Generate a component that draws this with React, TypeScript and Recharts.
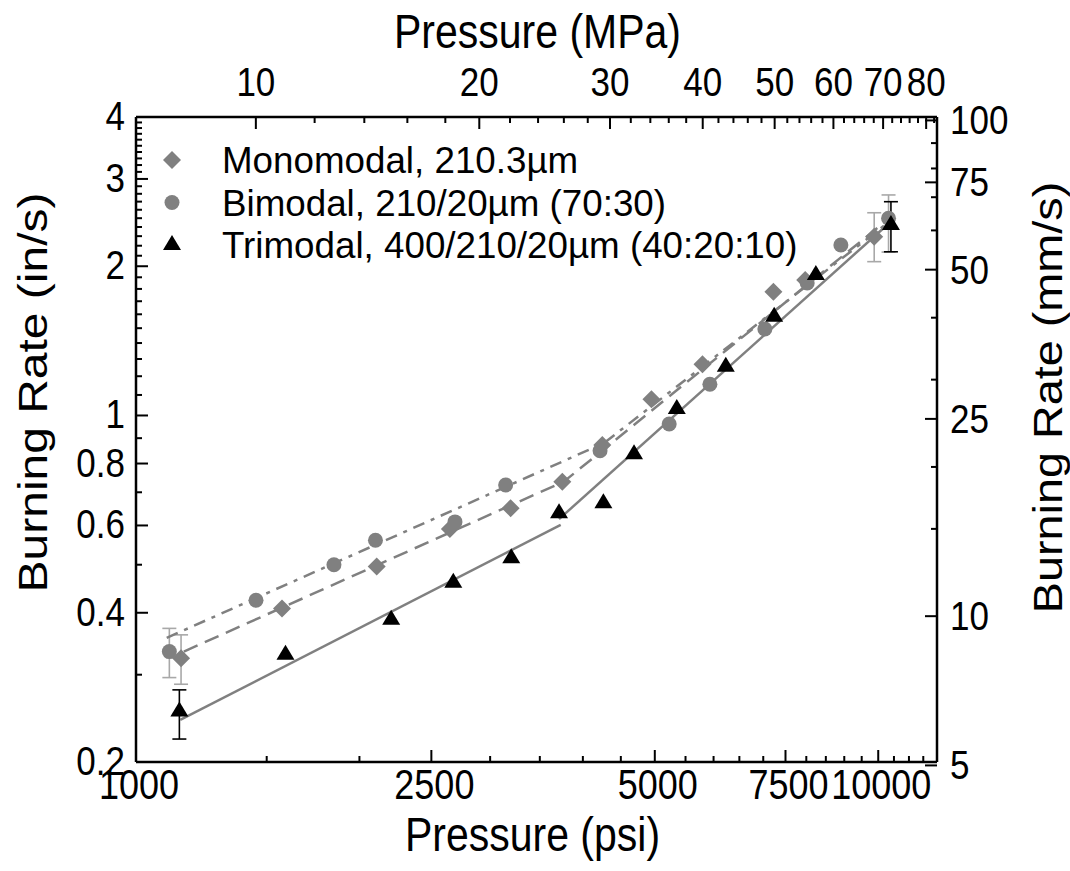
import React from 'react';
import { ComposedChart, Scatter, XAxis, YAxis, ErrorBar, Legend, Label } from 'recharts';

const FONT = '"Liberation Sans", Arial, Helvetica, sans-serif';
const GRAY = '#808080';
const ERR_GRAY = '#a8a8a8';
const SY = 1.17; // vertical text stretch seen in the reference

// ---- measured points (pressure in psi, burning rate in in/s) ----
const monoPsi = [1150, 1573, 2110, 2648, 3197, 3753, 4249, 4948, 5797, 7224, 7973, 9876];
const monoRate = [0.324, 0.408, 0.496, 0.59, 0.65, 0.735, 0.872, 1.078, 1.268, 1.777, 1.876, 2.294];
const biPsi = [1109, 1451, 1848, 2102, 2690, 3148, 4219, 5228, 5932, 7035, 8022, 8906, 10325];
const biRate = [0.334, 0.424, 0.5, 0.56, 0.61, 0.724, 0.849, 0.961, 1.156, 1.494, 1.85, 2.207, 2.499];
const triPsi = [1144, 1590, 2207, 2676, 3203, 3715, 4263, 4688, 5353, 6232, 7241, 8241, 10402];
const triRate = [0.253, 0.329, 0.387, 0.46, 0.515, 0.635, 0.665, 0.835, 1.031, 1.254, 1.582, 1.92, 2.422];

// ---- error bars (first and last points) ----
const monoErrPsi = [1150, 9876];
const monoErrRate = [0.324, 2.294];
const monoErrLow = [0.287, 2.043];
const monoErrHigh = [0.361, 2.564];
const biErrPsi = [1109, 10325];
const biErrRate = [0.334, 2.499];
const biErrLow = [0.296, 2.136];
const biErrHigh = [0.372, 2.785];
const triErrPsi = [1144, 10402];
const triErrRate = [0.253, 2.422];
const triErrLow = [0.2225, 2.139];
const triErrHigh = [0.2796, 2.699];

// ---- fit lines ----
const monoFitPsi = [1160, 3773, 9970];
const monoFitRate = [0.334, 0.736, 2.388];
const biFitPsi = [1100, 4272, 10251];
const biFitRate = [0.356, 0.88, 2.433];
const triFit1Psi = [1147, 3734];
const triFit1Rate = [0.2432, 0.6016];
const triFit2Psi = [3715, 10350];
const triFit2Rate = [0.618, 2.445];

// ---- ticks ----
const psiMajor = [1000, 2500, 5000, 7500, 10000];
const psiMinor = [1500, 2000, 3000, 3500, 4000, 4500, 5500, 6000, 6500, 7000, 8000, 8500, 9000, 9500, 10500, 11000, 11500];
const mpaMajor = [10, 20, 30, 40, 50, 60, 70, 80];
const mpaMinor = [12, 14, 16, 18, 22, 24, 26, 28, 32, 34, 36, 38, 42, 44, 46, 48, 52, 54, 56, 58, 62, 64, 66, 68, 72, 74, 76, 78, 82];
const inMajor = [0.2, 0.4, 0.6, 0.8, 1, 2, 3, 4];
const inMinor = [0.3, 0.5, 0.7, 0.9, 1.1, 1.2, 1.3, 1.4, 1.5, 1.6, 1.7, 1.8, 1.9, 2.1, 2.2, 2.3, 2.4, 2.5, 2.6, 2.7, 2.8, 2.9, 3.1, 3.2, 3.3, 3.4, 3.5, 3.6, 3.7, 3.8, 3.9];
const mmMajor = [5, 10, 25, 50, 75, 100];
const mmMinor = [15, 20, 30, 40, 60, 70, 80, 90];

const psiDomain = [1000, 12000];
const inDomain = [0.2, 4];
const PSI_PER_MPA = 145.038;
const MM_PER_IN = 25.4;

const legendLabels = ['Monomodal, 210.3\u00b5m', 'Bimodal, 210/20\u00b5m (70:30)', 'Trimodal, 400/210/20\u00b5m (40:20:10)'];
const legendShapes = ['diamond', 'circle', 'triangle'];
const legendColors = [GRAY, GRAY, '#000000'];

const pts = (xs: number[], ys: number[]) => xs.map((psi, i) => ({ psi, rate: ys[i] }));
const errPts = (xs: number[], ys: number[], lo: number[], hi: number[]) =>
  xs.map((psi, i) => ({ psi, rate: ys[i], err: [ys[i] - lo[i], hi[i] - ys[i]] }));

const monoData = pts(monoPsi, monoRate);
const biData = pts(biPsi, biRate);
const triData = pts(triPsi, triRate);
const monoErr = errPts(monoErrPsi, monoErrRate, monoErrLow, monoErrHigh);
const biErr = errPts(biErrPsi, biErrRate, biErrLow, biErrHigh);
const triErr = errPts(triErrPsi, triErrRate, triErrLow, triErrHigh);
const monoFit = pts(monoFitPsi, monoFitRate);
const biFit = pts(biFitPsi, biFitRate);
const triFit1 = pts(triFit1Psi, triFit1Rate);
const triFit2 = pts(triFit2Psi, triFit2Rate);

const isIn = (arr: number[], v: number) => arr.some((a) => Math.abs(a - v) < 1e-6);

const MarkerShape = (kind: string, color: string, cx: number, cy: number) => {
  if (kind === 'diamond') {
    return <polygon points={`${cx},${cy - 9} ${cx + 9},${cy} ${cx},${cy + 9} ${cx - 9},${cy}`} fill={color} />;
  }
  if (kind === 'circle') {
    return <circle cx={cx} cy={cy} r={7.5} fill={color} />;
  }
  return <polygon points={`${cx},${cy - 10} ${cx + 9},${cy + 5} ${cx - 9},${cy + 5}`} fill={color} />;
};

const Nothing = () => <g />;

const textStyle = { fontFamily: FONT, fill: '#000' } as const;

// stretched text helper (anchor at baseline point x,y)
const SText = ({ x, y, size, anchor, rotate, sx, sy, children }: any) => (
  <text
    transform={`translate(${x},${y}) scale(${sx ?? 1},${sy ?? SY})${rotate ? ` rotate(${rotate})` : ''}`}
    x={0}
    y={0}
    textAnchor={anchor || 'start'}
    fontSize={size}
    style={textStyle}
  >
    {children}
  </text>
);

const BottomTick = (p: any) => {
  const { x, y, payload } = p;
  const major = isIn(psiMajor, payload.value);
  return (
    <g>
      <line x1={x} y1={y} x2={x} y2={y - (major ? 12 : 6)} stroke="#000" strokeWidth={2} />
      {major ? <SText x={x + 3} y={y + 37} size={36} anchor="middle">{payload.value}</SText> : null}
    </g>
  );
};

const TopTick = (p: any) => {
  const { x, y, payload } = p;
  const major = isIn(mpaMajor, payload.value);
  return (
    <g>
      <line x1={x} y1={y} x2={x} y2={y + (major ? 12 : 6)} stroke="#000" strokeWidth={2} />
      {major ? <SText x={x} y={y - 21} size={35} anchor="middle">{payload.value}</SText> : null}
    </g>
  );
};

const LeftTick = (p: any) => {
  const { x, y, payload } = p;
  const major = isIn(inMajor, payload.value);
  return (
    <g>
      <line x1={x} y1={y} x2={x + (major ? 12 : 6)} y2={y} stroke="#000" strokeWidth={2} />
      {major ? <SText x={x - 11} y={y + 13} size={35} anchor="end">{payload.value}</SText> : null}
    </g>
  );
};

const RightTick = (p: any) => {
  const { x, y, payload } = p;
  const major = isIn(mmMajor, payload.value);
  return (
    <g>
      <line x1={x} y1={y} x2={x - (major ? 12 : 6)} y2={y} stroke="#000" strokeWidth={2} />
      {major ? <SText x={x + 13} y={y + 14} size={35} anchor="start">{payload.value}</SText> : null}
    </g>
  );
};

const renderLegend = () => (
  <svg width={760} height={140}>
    {legendLabels.map((label, i) => {
      const cy = 25 + i * 42.5;
      return (
        <g key={label}>
          {MarkerShape(legendShapes[i], legendColors[i], 22, cy)}
          <SText x={72} y={cy + 13} size={35} sx={1.05} sy={1.05}>{label}</SText>
        </g>
      );
    })}
  </svg>
);

export default function App() {
  return (
    <div style={{ position: 'absolute', left: 0, top: 0, width: 1070, height: 871, background: '#fff' }}>
      <ComposedChart width={1070} height={871} margin={{ top: 0, right: 0, bottom: 0, left: 0 }}>
        <XAxis
          xAxisId="bottom"
          dataKey="psi"
          type="number"
          scale="log"
          domain={psiDomain}
          allowDataOverflow
          orientation="bottom"
          height={109}
          ticks={[...psiMajor, ...psiMinor]}
          interval={0}
          tickSize={0}
          tickMargin={0}
          tickLine={false}
          axisLine={{ stroke: '#000', strokeWidth: 2.5 }}
          tick={BottomTick}
        >
          <Label
            content={(props: any) => {
              const vb = props.viewBox;
              return <SText x={vb.x + vb.width / 2 - 4} y={vb.y + 89} size={41} anchor="middle">Pressure (psi)</SText>;
            }}
          />
        </XAxis>
        <XAxis
          xAxisId="top"
          dataKey="mpa"
          type="number"
          scale="log"
          domain={[psiDomain[0] / PSI_PER_MPA, psiDomain[1] / PSI_PER_MPA]}
          allowDataOverflow
          orientation="top"
          height={117}
          ticks={[...mpaMajor, ...mpaMinor]}
          interval={0}
          tickSize={0}
          tickMargin={0}
          tickLine={false}
          axisLine={{ stroke: '#000', strokeWidth: 2.5 }}
          tick={TopTick}
        >
          <Label
            content={(props: any) => {
              const vb = props.viewBox;
              return <SText x={vb.x + vb.width / 2 + 1} y={vb.y + 48} size={41} anchor="middle">Pressure (MPa)</SText>;
            }}
          />
        </XAxis>
        <YAxis
          yAxisId="left"
          dataKey="rate"
          type="number"
          scale="log"
          domain={inDomain}
          allowDataOverflow
          orientation="left"
          width={136}
          ticks={[...inMajor, ...inMinor]}
          interval={0}
          tickSize={0}
          tickMargin={0}
          tickLine={false}
          axisLine={{ stroke: '#000', strokeWidth: 2.5 }}
          tick={LeftTick}
        >
          <Label
            content={(props: any) => {
              const vb = props.viewBox;
              return (
                <SText x={vb.x + 47} y={vb.y + vb.height / 2 - 47} size={41} anchor="middle" rotate={-90}>
                  Burning Rate (in/s)
                </SText>
              );
            }}
          />
        </YAxis>
        <YAxis
          yAxisId="right"
          dataKey="mm"
          type="number"
          scale="log"
          domain={[inDomain[0] * MM_PER_IN, inDomain[1] * MM_PER_IN]}
          allowDataOverflow
          orientation="right"
          width={133}
          ticks={[...mmMajor, ...mmMinor]}
          interval={0}
          tickSize={0}
          tickMargin={0}
          tickLine={false}
          axisLine={{ stroke: '#000', strokeWidth: 2.5 }}
          tick={RightTick}
        >
          <Label
            content={(props: any) => {
              const vb = props.viewBox;
              return (
                <SText x={vb.x + 125} y={vb.y + vb.height / 2 - 42} size={40} anchor="middle" rotate={-90}>
                  Burning Rate (mm/s)
                </SText>
              );
            }}
          />
        </YAxis>

        {/* fit lines */}
        <Scatter xAxisId="bottom" yAxisId="left" data={monoFit} shape={Nothing} legendType="none" isAnimationActive={false}
          line={{ stroke: GRAY, strokeWidth: 2.5, strokeDasharray: '15 8' }} />
        <Scatter xAxisId="bottom" yAxisId="left" data={biFit} shape={Nothing} legendType="none" isAnimationActive={false}
          line={{ stroke: GRAY, strokeWidth: 2.5, strokeDasharray: '12 7 4 7' }} />
        <Scatter xAxisId="bottom" yAxisId="left" data={triFit1} shape={Nothing} legendType="none" isAnimationActive={false}
          line={{ stroke: GRAY, strokeWidth: 2.5 }} />
        <Scatter xAxisId="bottom" yAxisId="left" data={triFit2} shape={Nothing} legendType="none" isAnimationActive={false}
          line={{ stroke: GRAY, strokeWidth: 2.5 }} />

        {/* error bars */}
        <Scatter xAxisId="bottom" yAxisId="left" data={monoErr} shape={Nothing} legendType="none" isAnimationActive={false}>
          <ErrorBar dataKey="err" direction="y" width={7} stroke={ERR_GRAY} strokeWidth={1.6} isAnimationActive={false} />
        </Scatter>
        <Scatter xAxisId="bottom" yAxisId="left" data={biErr} shape={Nothing} legendType="none" isAnimationActive={false}>
          <ErrorBar dataKey="err" direction="y" width={7} stroke={ERR_GRAY} strokeWidth={1.6} isAnimationActive={false} />
        </Scatter>
        <Scatter xAxisId="bottom" yAxisId="left" data={triErr} shape={Nothing} legendType="none" isAnimationActive={false}>
          <ErrorBar dataKey="err" direction="y" width={7} stroke="#000" strokeWidth={1.6} isAnimationActive={false} />
        </Scatter>

        {/* markers */}
        <Scatter name={legendLabels[0]} xAxisId="bottom" yAxisId="left" data={monoData} isAnimationActive={false}
          shape={(p: any) => MarkerShape('diamond', GRAY, p.cx, p.cy)} />
        <Scatter name={legendLabels[1]} xAxisId="bottom" yAxisId="left" data={biData} isAnimationActive={false}
          shape={(p: any) => MarkerShape('circle', GRAY, p.cx, p.cy)} />
        <Scatter name={legendLabels[2]} xAxisId="bottom" yAxisId="left" data={triData} isAnimationActive={false}
          shape={(p: any) => MarkerShape('triangle', '#000', p.cx, p.cy)} />

        <Legend layout="vertical" align="center" verticalAlign="middle" content={renderLegend}
          wrapperStyle={{ left: 150, top: 135, width: 760, height: 140 }} />
      </ComposedChart>
    </div>
  );
}
